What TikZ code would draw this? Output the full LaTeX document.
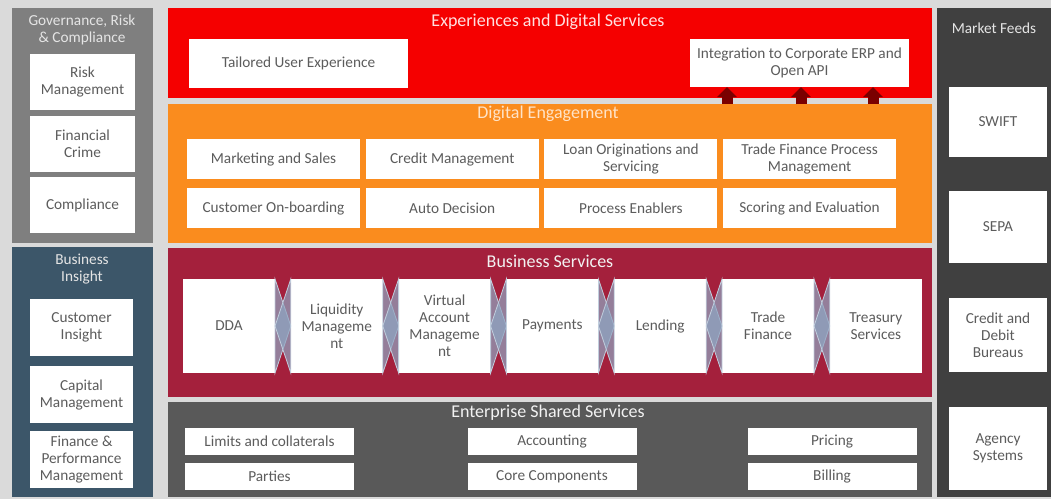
\documentclass[tikz,border=0pt]{standalone}
\usepackage{fontspec}
\setmainfont{Carlito}
\usetikzlibrary{arrows.meta}
\definecolor{bggrey}{HTML}{DADADA}
\definecolor{grcgrey}{HTML}{7F7F7F}
\definecolor{insightblue}{HTML}{3C5669}
\definecolor{expred}{HTML}{F50000}
\definecolor{engorange}{HTML}{FA8C1E}
\definecolor{bizred}{HTML}{A4203C}
\definecolor{entgrey}{HTML}{595959}
\definecolor{feedgrey}{HTML}{404040}
\definecolor{boxtext}{HTML}{5C5C5C}
\definecolor{arrowred}{HTML}{7A0000}
\definecolor{linkblue}{HTML}{8EA6C2}
\tikzset{
    box/.style={fill=white, text=boxtext, align=center, inner sep=0pt, outer sep=0pt, font=\fontsize{15.3}{17}\selectfont},
    paneltitle/.style={align=center, font=\fontsize{18}{20}\selectfont},
    sidetitle/.style={align=center, text=white!90!black, font=\fontsize{15.3}{17}\selectfont},
    uparrow/.style={draw=arrowred, line width=11pt, -{Triangle[width=19pt,length=10pt]}},
    link/.style={fill=linkblue, fill opacity=0.7, draw=linkblue!55!white, line width=0.8pt}
}
\begin{document}
\begin{tikzpicture}[x=1pt,y=-1pt]
        \useasboundingbox (0,0) rectangle (1051,499);
        \fill[bggrey] (0,0) rectangle (1051,499);
        \fill[grcgrey] (12,8) rectangle (153,243);
        \fill[insightblue] (12,247) rectangle (153,497);
        \fill[expred] (168,8) rectangle (932,98);
        \fill[engorange] (168,104) rectangle (932,243);
        \fill[bizred] (168,248) rectangle (932,397);
        \fill[entgrey] (168,402) rectangle (932,497);
        \fill[feedgrey] (937,8) rectangle (1051,497);
        \node[sidetitle] (grc) at (82,30) {Governance, Risk\\\& Compliance};
        \node[sidetitle] (insight) at (82,269) {Business\\Insight};
        \node[sidetitle] (feeds) at (994,28) {Market Feeds};
        \node[paneltitle, text=red!12!white] (exp) at (548,22) {Experiences and Digital Services};
        \node[paneltitle, text=orange!22!white] (eng) at (548,114) {Digital Engagement};
        \node[paneltitle, text=white!95!black] (biz) at (550,261) {Business Services};
        \node[paneltitle, text=white!95!black] (ent) at (548,413) {Enterprise Shared Services};
        \foreach \n/\y/\t in {risk/82/{Risk\\Management},crime/144/{Financial\\Crime},compl/205/Compliance}
            {
                \node[box, minimum width=105pt, minimum height=56pt] (\n) at (82.5,\y) {\t};
            }
        \foreach \n/\y/\t in {cust/327.5/{Customer\\Insight},capital/394.5/{Capital\\Management},perf/459.5/{Finance \&\\Performance\\Management}}
            {
                \node[box, minimum width=103pt, minimum height=57pt] (\n) at (81.5,\y) {\t};
            }
        \node[box, minimum width=219pt, minimum height=49pt] (tailored) at (298.5,63.5) {Tailored User Experience};
        \node[box, minimum width=219pt, minimum height=48pt] (api) at (799.5,63) {Integration to Corporate ERP and\\Open API};
        \foreach \u [count=\i] in {727,801,873}
            {
                \coordinate (up\i) at (\u,104);
                \draw[uparrow] (up\i) -- (api.south -| up\i);
            }
        \foreach \n/\k/\t in {mkt/0/Marketing and Sales,cred/1/Credit Management,loan/2/{Loan Originations and\\Servicing},tfp/3/{Trade Finance Process\\Management}}
            {
                \node[box, minimum width=173pt, minimum height=40pt] (\n) at (273.5+\k*178.7,159) {\t};
            }
        \foreach \n/\k/\t in {onb/0/Customer On-boarding,auto/1/Auto Decision,enab/2/Process Enablers,score/3/Scoring and Evaluation}
            {
                \node[box, minimum width=173pt, minimum height=40pt] (\n) at (273.5+\k*178.7,208) {\t};
            }
        \foreach \t [count=\k from 0] in {DDA,{Liquidity\\Manageme\\nt},{Virtual\\Account\\Manageme\\nt},Payments,Lending,{Trade\\Finance},{Treasury\\Services}}
            {
                \node[box, minimum width=92pt, minimum height=94pt] (bs\k) at (229+\k*107.8,326) {\t};
            }
        \foreach \k in {0,...,5}
            {
                \pgfmathtruncatemacro{\j}{\k+1}
                \filldraw[link] (bs\k.north east) -- (bs\k.south east) -- (bs\j.west) -- cycle;
                \filldraw[link] (bs\j.north west) -- (bs\j.south west) -- (bs\k.east) -- cycle;
            }
        \foreach \n/\x/\y/\t in {lim/269.5/441.5/Limits and collaterals,par/269.5/476.5/Parties,acc/552/441.5/Accounting,core/552/476.5/Core Components,pri/832/441.5/Pricing,bil/832/476.5/Billing}
            {
                \node[box, minimum width=169pt, minimum height=27pt] (\n) at (\x,\y) {\t};
            }
        \foreach \n/\y/\h/\t in {swift/122/70/SWIFT,sepa/227/72/SEPA,bureau/335/74/{Credit and\\Debit\\Bureaus},agency/448.5/83/{Agency\\Systems}}
            {
                \node[box, minimum width=98pt, minimum height=\h pt] (\n) at (998,\y) {\t};
            }
    \end{tikzpicture}
\end{document}
